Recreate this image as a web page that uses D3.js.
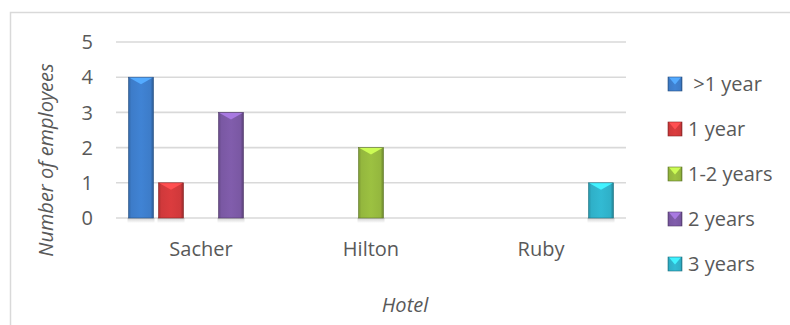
<!DOCTYPE html>
<html>
<head>
<meta charset="utf-8">
<script src="https://cdn.jsdelivr.net/npm/d3@7"></script>
<style>
  body { margin: 0; background: #fff; }
  svg { display: block; font-family: "Open Sans", Lato, sans-serif; }
</style>
</head>
<body>
<svg></svg>
<script>
const hotels = ["Sacher", "Hilton", "Ruby"];
const series = [" >1 year", "1 year", "1-2 years", "2 years", "3 years"];
const colors = ["#3d7cc9", "#d0393b", "#94b73e", "#7a58a3", "#2fb0c8"];
const values = [
    [4, 0, 0],   // >1 year
    [1, 0, 0],   // 1 year
    [0, 2, 0],   // 1-2 years
    [3, 0, 0],   // 2 years
    [0, 0, 1]    // 3 years
];
const yTicks = [0, 1, 2, 3, 4, 5];

const svg = d3.select("svg");
const svg_width = 790;
const svg_height = 325;
svg.attr("width", svg_width).attr("height", svg_height);

// chart border
svg.append("rect")
    .attr("x", 10.5)
    .attr("y", 12.5)
    .attr("width", 790)
    .attr("height", 330)
    .attr("fill", "none")
    .attr("stroke", "#d9d9d9")
    .attr("stroke-width", 1.5);

const plot = {left: 116, right: 626, top: 42, bottom: 218};
const fontSize = 20;

const x0 = d3.scaleBand()
    .domain(hotels)
    .range([plot.left, plot.right])
    .paddingOuter(0);

const x1 = d3.scaleBand()
    .domain(d3.range(series.length))
    .range([12.5, x0.bandwidth() - 12.5])
    .paddingInner(1 / 6)
    .paddingOuter(0);

const y = d3.scaleLinear()
    .domain([0, 5])
    .range([plot.bottom, plot.top]);

const defs = svg.append("defs");
colors.forEach((c, i) => {
    const g = defs.append("linearGradient")
        .attr("id", "grad" + i)
        .attr("x1", "0").attr("x2", "1").attr("y1", "0").attr("y2", "0");
    const base = d3.color(c);
    g.append("stop").attr("offset", "0%").attr("stop-color", base.darker(0.5));
    g.append("stop").attr("offset", "12%").attr("stop-color", base);
    g.append("stop").attr("offset", "50%").attr("stop-color", base.brighter(0.15));
    g.append("stop").attr("offset", "88%").attr("stop-color", base);
    g.append("stop").attr("offset", "100%").attr("stop-color", base.darker(0.9));
});
const sh = defs.append("linearGradient")
    .attr("id", "shadow").attr("x1", 0).attr("x2", 0).attr("y1", 0).attr("y2", 1);
sh.append("stop").attr("offset", "0%").attr("stop-color", "#000").attr("stop-opacity", 0.18);
sh.append("stop").attr("offset", "100%").attr("stop-color", "#000").attr("stop-opacity", 0);

// gridlines
svg.append("g")
    .selectAll("line")
    .data(yTicks)
    .join("line")
    .attr("x1", plot.left)
    .attr("x2", plot.right)
    .attr("y1", d => y(d))
    .attr("y2", d => y(d))
    .attr("stroke", "#d9d9d9")
    .attr("stroke-width", 1.6);

// y tick labels
svg.append("g")
    .selectAll("text")
    .data(yTicks)
    .join("text")
    .attr("x", 93)
    .attr("y", d => y(d))
    .attr("dy", "0.36em")
    .attr("text-anchor", "end")
    .attr("font-size", fontSize)
    .attr("fill", "#595959")
    .text(d => d);

// x labels
svg.append("g")
    .selectAll("text")
    .data(hotels)
    .join("text")
    .attr("x", d => x0(d) + x0.bandwidth() / 2)
    .attr("y", 256)
    .attr("text-anchor", "middle")
    .attr("font-size", fontSize)
    .attr("fill", "#595959")
    .text(d => d);

// bars
const bars = [];
series.forEach((s, i) => {
    hotels.forEach((h, j) => {
        if (values[i][j] > 0) bars.push({s: i, h: h, v: values[i][j]});
    });
});

const barG = svg.append("g")
    .selectAll("g")
    .data(bars)
    .join("g");

barG.append("rect")
    .attr("x", d => x0(d.h) + x1(d.s) - 1)
    .attr("y", plot.bottom)
    .attr("width", x1.bandwidth() + 2)
    .attr("height", 5)
    .attr("fill", "url(#shadow)");

barG.append("rect")
    .attr("x", d => x0(d.h) + x1(d.s))
    .attr("y", d => y(d.v))
    .attr("width", x1.bandwidth())
    .attr("height", d => plot.bottom - y(d.v))
    .attr("fill", d => "url(#grad" + d.s + ")")
    .attr("stroke", d => d3.color(colors[d.s]).darker(1.2))
    .attr("stroke-width", 0.6);

barG.append("path")
    .attr("d", d => {
        const bx = x0(d.h) + x1(d.s);
        const bw = x1.bandwidth();
        const by = y(d.v);
        return `M${bx + 1},${by + 0.5} L${bx + bw - 1},${by + 0.5} L${bx + bw / 2},${by + 7} Z`;
    })
    .attr("fill", d => d3.color(colors[d.s]).brighter(0.9));

// legend
const legend = svg.append("g")
    .selectAll("g")
    .data(series)
    .join("g")
    .attr("transform", (d, i) => `translate(668, ${84 + i * 45})`);

legend.append("rect")
    .attr("x", 0)
    .attr("y", -7)
    .attr("width", 14)
    .attr("height", 14)
    .attr("fill", (d, i) => "url(#grad" + i + ")")
    .attr("stroke", (d, i) => d3.color(colors[i]).darker(1.2))
    .attr("stroke-width", 0.6);

legend.append("path")
    .attr("d", "M1,-6.5 L13,-6.5 L7,0.5 Z")
    .attr("fill", (d, i) => d3.color(colors[i]).brighter(0.9));

legend.append("text")
    .attr("x", 20)
    .attr("dy", "0.36em")
    .attr("font-size", fontSize)
    .attr("fill", "#595959")
    .attr("xml:space", "preserve")
    .text(d => d);

// axis titles
svg.append("text")
    .attr("x", 405)
    .attr("y", 305)
    .attr("dy", "0.36em")
    .attr("text-anchor", "middle")
    .attr("font-size", fontSize)
    .attr("font-style", "italic")
    .attr("fill", "#595959")
    .text("Hotel");

svg.append("text")
    .attr("transform", "translate(46, 160) rotate(-90)")
    .attr("dy", "0.36em")
    .attr("text-anchor", "middle")
    .attr("font-size", fontSize)
    .attr("font-style", "italic")
    .attr("fill", "#595959")
    .text("Number of employees");
</script>
</body>
</html>
